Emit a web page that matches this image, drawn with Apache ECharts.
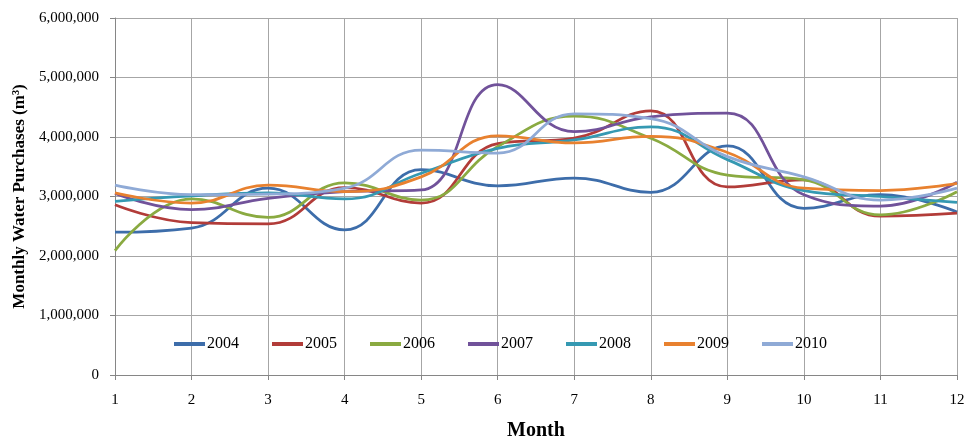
<!DOCTYPE html>
<html>
<head>
<meta charset="utf-8">
<script src="https://cdn.jsdelivr.net/npm/echarts@6/dist/echarts.min.js"></script>
<style>
  html, body { margin: 0; padding: 0; background: #fff; }
  #chart { width: 964px; height: 436px; }
</style>
</head>
<body>
<div id="chart"></div>
<script>
// months on the x axis
var months = ['1', '2', '3', '4', '5', '6', '7', '8', '9', '10', '11', '12']
var years = ['2004', '2005', '2006', '2007', '2008', '2009', '2010']

// monthly purchases (m3)
var y2004 = [2400000, 2470000, 3140000, 2440000, 3450000, 3180000, 3310000, 3070000, 3850000, 2800000, 3030000, 2740000]
var y2005 = [2860000, 2560000, 2540000, 3150000, 2890000, 3890000, 3980000, 4440000, 3160000, 3280000, 2670000, 2720000]
var y2006 = [2090000, 2960000, 2650000, 3230000, 2940000, 3840000, 4350000, 3980000, 3360000, 3280000, 2690000, 3080000]
var y2007 = [3050000, 2780000, 2970000, 3080000, 3110000, 4880000, 4090000, 4340000, 4400000, 3030000, 2840000, 3240000]
var y2008 = [2920000, 3010000, 3060000, 2960000, 3390000, 3810000, 3950000, 4170000, 3620000, 3100000, 3000000, 2900000]
var y2009 = [3060000, 2890000, 3190000, 3080000, 3330000, 4020000, 3900000, 4010000, 3740000, 3140000, 3100000, 3220000]
var y2010 = [3190000, 3030000, 3040000, 3140000, 3780000, 3730000, 4390000, 4310000, 3670000, 3330000, 2940000, 3140000]

var colors = ['#3D6DAA', '#B23C39', '#8AAA41', '#71529A', '#3599B2', '#E8812F', '#8FAAD6']
var seriesData = [y2004, y2005, y2006, y2007, y2008, y2009, y2010]

var font = '"Liberation Serif", "DejaVu Serif", serif'

var myChart = echarts.init(document.getElementById('chart'))
myChart.setOption({
  animation: false,
  color: colors,
  textStyle: { fontFamily: font },
  grid: { left: 115, right: 7, top: 18, bottom: 61, outerBoundsMode: 'none', containLabel: false },
  legend: {
    left: 169,
    top: 331,
    icon: 'rect',
    itemWidth: 31,
    itemHeight: 4,
    itemGap: 33,
    textStyle: { fontFamily: font, fontSize: 16, color: '#000', padding: [0, 0, 0, -3] },
    data: years,
  },
  xAxis: {
    type: 'category',
    data: months,
    boundaryGap: false,
    name: 'Month',
    nameLocation: 'middle',
    nameGap: 46,
    nameTextStyle: { fontFamily: font, fontSize: 20, fontWeight: 'bold', color: '#000' },
    axisLine: { lineStyle: { color: '#868686', width: 1 } },
    axisTick: { show: true, length: 5, alignWithLabel: true, lineStyle: { color: '#868686' } },
    axisLabel: { margin: 18, fontSize: 15, color: '#000', fontFamily: font },
    splitLine: { show: true, lineStyle: { color: '#A6A6A6', width: 1 } },
  },
  yAxis: {
    type: 'value',
    min: 0,
    max: 6000000,
    interval: 1000000,
    name: 'Monthly Water Purchases (m³)',
    nameLocation: 'middle',
    nameGap: 87,
    nameTextStyle: { fontFamily: font, fontSize: 17, fontWeight: 'bold', color: '#000' },
    axisLine: { show: true, lineStyle: { color: '#868686', width: 1 } },
    axisTick: { show: true, length: 5, lineStyle: { color: '#868686' } },
    axisLabel: {
      margin: 16,
      fontSize: 15,
      color: '#000',
      fontFamily: font,
      formatter: function (v) {
        return v.toString().replace(/\B(?=(\d{3})+(?!\d))/g, ',')
      },
    },
    splitLine: { show: true, lineStyle: { color: '#A6A6A6', width: 1 } },
  },
  series: years.map(function (y, i) {
    return {
      name: y,
      type: 'line',
      data: seriesData[i],
      smooth: 0.45,
      symbol: 'none',
      lineStyle: { width: 2.75, color: colors[i] },
      itemStyle: { color: colors[i] },
    }
  }),
})
</script>
</body>
</html>
